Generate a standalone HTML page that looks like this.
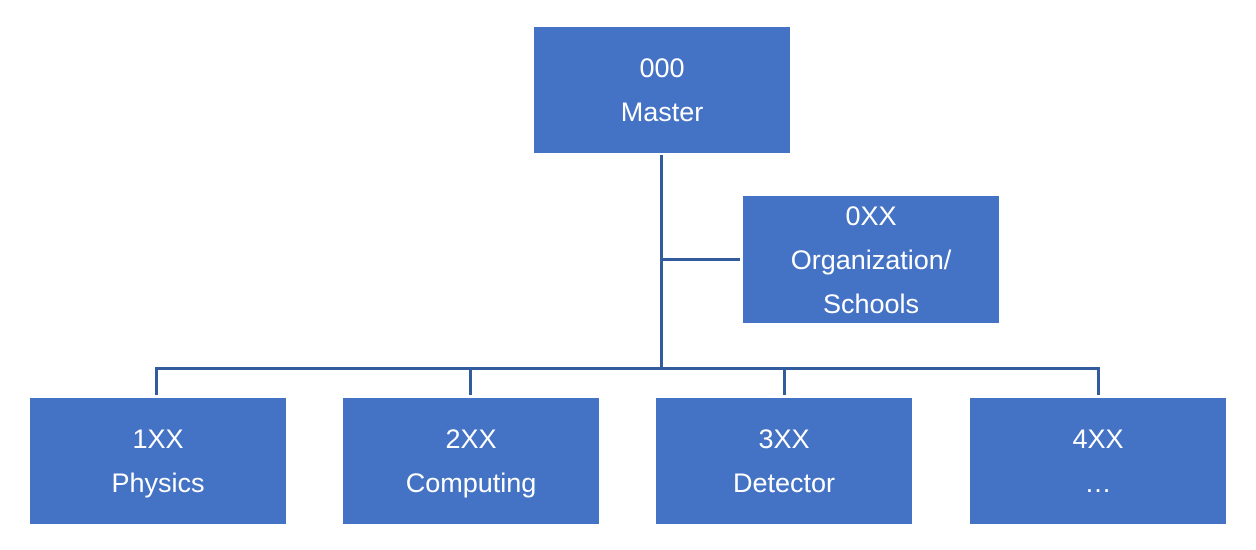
<!DOCTYPE html>
<html><head><style>
body{margin:0;width:1256px;height:550px;background:#fff;position:relative;overflow:hidden;font-family:"Liberation Sans",sans-serif}
.b{position:absolute;background:#4472C4;color:#fff;display:flex;flex-direction:column;justify-content:center;align-items:center;font-size:27px;line-height:44px;text-align:center}
.l{position:absolute;background:#335C9E}
</style></head><body>
<div class="l" style="left:660px;top:155px;width:3px;height:215px"></div>
<div class="l" style="left:660px;top:258px;width:80px;height:3px"></div>
<div class="l" style="left:155px;top:367px;width:945px;height:3px"></div>
<div class="l" style="left:155px;top:367px;width:3px;height:28px"></div>
<div class="l" style="left:469px;top:367px;width:3px;height:28px"></div>
<div class="l" style="left:783px;top:367px;width:3px;height:28px"></div>
<div class="l" style="left:1097px;top:367px;width:3px;height:28px"></div>
<div class="b" style="left:534px;top:27px;width:256px;height:126px"><div>000</div><div>Master</div></div>
<div class="b" style="left:743px;top:196px;width:256px;height:127px"><div>0XX</div><div>Organization/</div><div>Schools</div></div>
<div class="b" style="left:30px;top:398px;width:256px;height:126px"><div>1XX</div><div>Physics</div></div>
<div class="b" style="left:343px;top:398px;width:256px;height:126px"><div>2XX</div><div>Computing</div></div>
<div class="b" style="left:656px;top:398px;width:256px;height:126px"><div>3XX</div><div>Detector</div></div>
<div class="b" style="left:970px;top:398px;width:256px;height:126px"><div>4XX</div><div>…</div></div>
</body></html>
